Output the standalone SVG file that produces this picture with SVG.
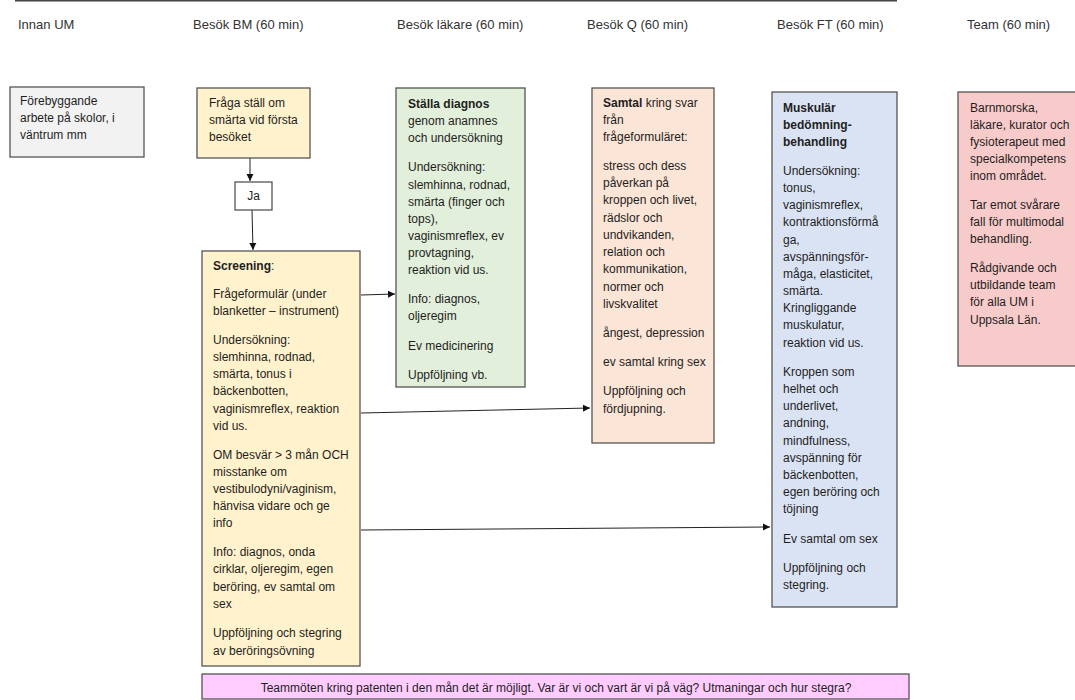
<svg xmlns="http://www.w3.org/2000/svg" width="1075" height="700" viewBox="0 0 1075 700">
<defs>
<style>
text{font-family:"Liberation Sans",Arial,sans-serif;font-size:12px;fill:#1e1e1e}
.h{font-size:13px;fill:#333}
.b{font-weight:bold}
.box{stroke:#555;stroke-width:1.3}
.con{stroke:#222;stroke-width:1;fill:none}
</style>
<marker id="ah" markerWidth="8" markerHeight="8" refX="7" refY="4" orient="auto" markerUnits="userSpaceOnUse">
<path d="M0,0.5 L7,4 L0,7.5 Z" fill="#111"/>
</marker>
</defs>
<rect width="1075" height="700" fill="#fff"/>
<line x1="15" y1="0.5" x2="897" y2="0.5" stroke="#444" stroke-width="2"/>
<g id="headers">
<text class="h" x="18" y="29">Innan UM</text>
<text class="h" x="193" y="29">Besök BM (60 min)</text>
<text class="h" x="397" y="29">Besök läkare (60 min)</text>
<text class="h" x="587" y="29">Besök Q (60 min)</text>
<text class="h" x="777" y="29">Besök FT (60 min)</text>
<text class="h" x="967" y="29">Team (60 min)</text>
</g>
<g id="connectors">
<line class="con" x1="250" y1="158" x2="250" y2="181" marker-end="url(#ah)"/>
<line class="con" x1="252" y1="210" x2="253" y2="250" marker-end="url(#ah)"/>
<line class="con" x1="361" y1="295" x2="395" y2="294" marker-end="url(#ah)"/>
<line class="con" x1="361" y1="413" x2="590" y2="408" marker-end="url(#ah)"/>
<line class="con" x1="361" y1="530" x2="770" y2="527" marker-end="url(#ah)"/>
</g>
<g id="innan">
<rect class="box" x="10" y="87" width="134" height="70" fill="#f2f2f2"/>
<text x="20" y="105">Förebyggande</text>
<text x="20" y="122">arbete på skolor, i</text>
<text x="20" y="139">väntrum mm</text>
</g>
<g id="fraga">
<rect class="box" x="197" y="88" width="113" height="70" fill="#fff2cc"/>
<text x="209" y="107">Fråga ställ om</text>
<text x="209" y="124">smärta vid första</text>
<text x="209" y="141">besöket</text>
</g>
<g id="ja">
<rect class="box" x="235" y="182" width="37" height="28" fill="#fff"/>
<text x="253.5" y="200" text-anchor="middle">Ja</text>
</g>
<g id="screening">
<rect class="box" x="202" y="251" width="158" height="415" fill="#fff2cc"/>
<text x="213" y="270"><tspan class="b">Screening</tspan>:</text>
<text x="213" y="298">Frågeformulär (under</text>
<text x="213" y="315">blanketter – instrument)</text>
<text x="213" y="344">Undersökning:</text>
<text x="213" y="361">slemhinna, rodnad,</text>
<text x="213" y="378">smärta, tonus i</text>
<text x="213" y="395">bäckenbotten,</text>
<text x="213" y="413">vaginismreflex, reaktion</text>
<text x="213" y="430">vid us.</text>
<text x="213" y="459">OM besvär &gt; 3 mån OCH</text>
<text x="213" y="476">misstanke om</text>
<text x="213" y="493">vestibulodyni/vaginism,</text>
<text x="213" y="510">hänvisa vidare och ge</text>
<text x="213" y="527">info</text>
<text x="213" y="556">Info: diagnos, onda</text>
<text x="213" y="573">cirklar, oljeregim, egen</text>
<text x="213" y="591">beröring, ev samtal om</text>
<text x="213" y="608">sex</text>
<text x="213" y="637">Uppföljning och stegring</text>
<text x="213" y="655">av beröringsövning</text>
</g>
<g id="lakare">
<rect class="box" x="396" y="88" width="129" height="299" fill="#e2efda"/>
<text class="b" x="408" y="108">Ställa diagnos</text>
<text x="408" y="125">genom anamnes</text>
<text x="408" y="142">och undersökning</text>
<text x="408" y="171">Undersökning:</text>
<text x="408" y="189">slemhinna, rodnad,</text>
<text x="408" y="206">smärta (finger och</text>
<text x="408" y="223">tops),</text>
<text x="408" y="240">vaginismreflex, ev</text>
<text x="408" y="257">provtagning,</text>
<text x="408" y="274">reaktion vid us.</text>
<text x="408" y="303">Info: diagnos,</text>
<text x="408" y="320">oljeregim</text>
<text x="408" y="350">Ev medicinering</text>
<text x="408" y="379">Uppföljning vb.</text>
</g>
<g id="q">
<rect class="box" x="592" y="88" width="122" height="355" fill="#fbe5d6"/>
<text x="603" y="107"><tspan class="b">Samtal</tspan> kring svar</text>
<text x="603" y="124">från</text>
<text x="603" y="141">frågeformuläret:</text>
<text x="603" y="170">stress och dess</text>
<text x="603" y="187">påverkan på</text>
<text x="603" y="204">kroppen och livet,</text>
<text x="603" y="222">rädslor och</text>
<text x="603" y="239">undvikanden,</text>
<text x="603" y="256">relation och</text>
<text x="603" y="273">kommunikation,</text>
<text x="603" y="291">normer och</text>
<text x="603" y="308">livskvalitet</text>
<text x="603" y="337">ångest, depression</text>
<text x="603" y="366">ev samtal kring sex</text>
<text x="603" y="395">Uppföljning och</text>
<text x="603" y="413">fördjupning.</text>
</g>
<g id="ft">
<rect class="box" x="772" y="92" width="125" height="515" fill="#dae3f3"/>
<text class="b" x="783" y="112">Muskulär</text>
<text class="b" x="783" y="129">bedömning-</text>
<text class="b" x="783" y="146">behandling</text>
<text x="783" y="175">Undersökning:</text>
<text x="783" y="192">tonus,</text>
<text x="783" y="209">vaginismreflex,</text>
<text x="783" y="226">kontraktionsförmå</text>
<text x="783" y="244">ga,</text>
<text x="783" y="261">avspänningsför-</text>
<text x="783" y="278">måga, elasticitet,</text>
<text x="783" y="295">smärta.</text>
<text x="783" y="312">Kringliggande</text>
<text x="783" y="329">muskulatur,</text>
<text x="783" y="347">reaktion vid us.</text>
<text x="783" y="376">Kroppen som</text>
<text x="783" y="393">helhet och</text>
<text x="783" y="410">underlivet,</text>
<text x="783" y="427">andning,</text>
<text x="783" y="445">mindfulness,</text>
<text x="783" y="462">avspänning för</text>
<text x="783" y="479">bäckenbotten,</text>
<text x="783" y="496">egen beröring och</text>
<text x="783" y="513">töjning</text>
<text x="783" y="543">Ev samtal om sex</text>
<text x="783" y="572">Uppföljning och</text>
<text x="783" y="589">stegring.</text>
</g>
<g id="team">
<rect class="box" x="958" y="92" width="125" height="274" fill="#f8cbcb"/>
<text x="970" y="112">Barnmorska,</text>
<text x="970" y="129">läkare, kurator och</text>
<text x="970" y="146">fysioterapeut med</text>
<text x="970" y="163">specialkompetens</text>
<text x="970" y="180">inom området.</text>
<text x="970" y="209">Tar emot svårare</text>
<text x="970" y="226">fall för multimodal</text>
<text x="970" y="243">behandling.</text>
<text x="970" y="272">Rådgivande och</text>
<text x="970" y="289">utbildande team</text>
<text x="970" y="306">för alla UM i</text>
<text x="970" y="324">Uppsala Län.</text>
</g>
<g id="teammoten">
<rect class="box" x="202" y="674" width="707" height="25" fill="#ffccff"/>
<text x="556" y="692" text-anchor="middle" font-size="11.4">Teammöten kring patenten i den mån det är möjligt. Var är vi och vart är vi på väg? Utmaningar och hur stegra?</text>
</g>
</svg>
